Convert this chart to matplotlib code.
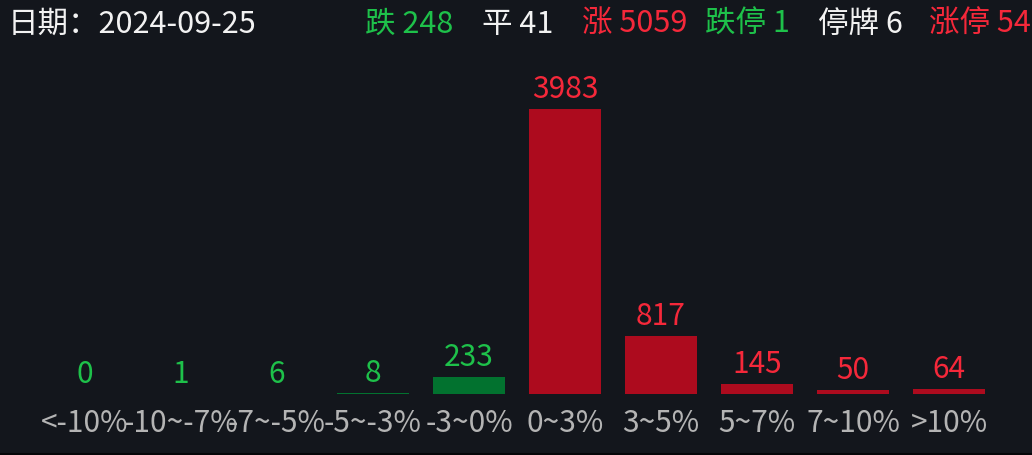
import matplotlib.pyplot as plt

plt.rcParams['font.family'] = ['Noto Sans CJK SC', 'DejaVu Sans']

# data
date_str = "2024-09-25"
categories = ["<-10%", "-10~-7%", "-7~-5%", "-5~-3%", "-3~0%",
              "0~3%", "3~5%", "5~7%", "7~10%", ">10%"]
counts = [0, 1, 6, 8, 233, 3983, 817, 145, 50, 64]
summary_names = ["跌", "平", "涨", "跌停", "停牌", "涨停"]
summary_values = [248, 41, 5059, 1, 6, 54]

BG = "#13161c"
RED_BAR = "#ad0b1e"
RED_TXT = "#f5283a"
GREEN_BAR = "#02722f"
GREEN_TXT = "#1ec14a"
WHITE = "#f2f2f2"
GREY = "#b4b4b4"

summary_colors = [GREEN_TXT, WHITE, RED_TXT, GREEN_TXT, WHITE, RED_TXT]
summary_x = [365, 482, 582, 705, 818, 929]

W, H = 1032, 456
fig = plt.figure(figsize=(W / 100, H / 100), dpi=100, facecolor=BG)
ax = fig.add_axes([37 / W, 61 / H, 960 / W, 285 / H])
ax.set_facecolor(BG)

xs = list(range(len(categories)))
bar_colors = [GREEN_BAR if i < 5 else RED_BAR for i in xs]
txt_colors = [GREEN_TXT if i < 5 else RED_TXT for i in xs]
ax.bar(xs, counts, width=0.75, color=bar_colors)
ax.set_xlim(-0.5, len(categories) - 0.5)
ax.set_ylim(0, max(counts))
ax.axis('off')

fs = 21.5
for i, v in enumerate(counts):
    ax.annotate(str(v), (i, v), xytext=(0, 8.6), textcoords='offset points',
                ha='center', va='baseline', color=txt_colors[i], fontsize=fs,
                annotation_clip=False)
    ax.annotate(categories[i], (i, 0), xytext=(0, -26.6), textcoords='offset points',
                ha='center', va='baseline', color=GREY, fontsize=fs,
                annotation_clip=False)

# header
hfs = 22
fig.text(8 / W, 1 - 33 / H, "日期：" + date_str, color=WHITE, fontsize=hfs,
         ha='left', va='baseline')
for name, val, col, px in zip(summary_names, summary_values, summary_colors, summary_x):
    fig.text(px / W, 1 - 33 / H, f"{name} {val}", color=col, fontsize=hfs,
             ha='left', va='baseline')

# dark strip at the bottom edge
fig.add_artist(plt.Line2D([0, 1], [1.5 / H, 1.5 / H], color="#050608", lw=2.2,
                          transform=fig.transFigure))

fig.savefig("out.png", dpi=100, facecolor=BG)
